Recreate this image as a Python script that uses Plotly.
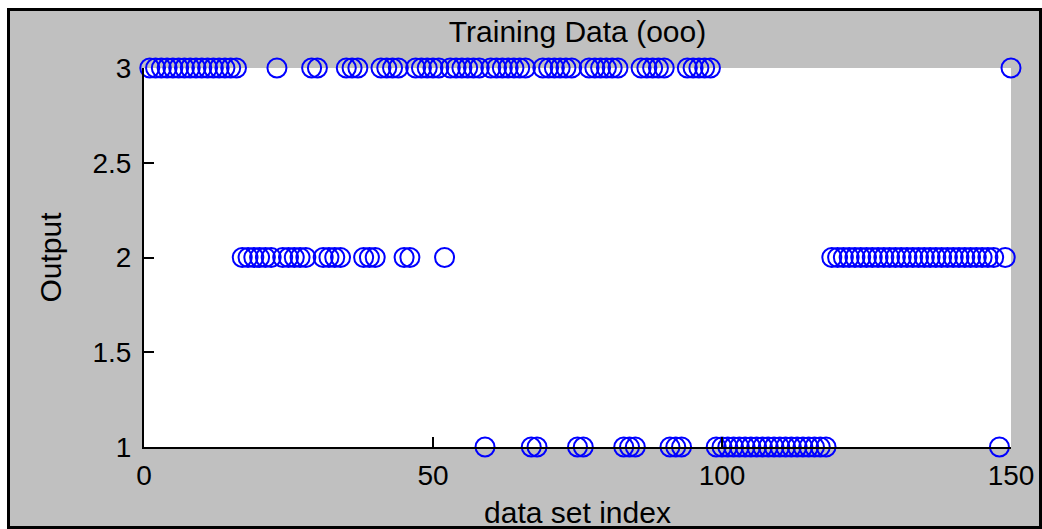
import plotly.graph_objects as go

# class label (Output) per data set index 1..150
idx_out3 = list(range(1, 17)) + [23, 29, 30, 35, 36, 37, 41, 42, 43, 44] + \
    list(range(47, 52)) + list(range(53, 59)) + list(range(60, 67)) + \
    list(range(69, 75)) + list(range(77, 83)) + list(range(86, 91)) + \
    list(range(94, 99)) + [150]
idx_out2 = list(range(17, 23)) + list(range(24, 29)) + list(range(31, 35)) + \
    [38, 39, 40, 45, 46, 52] + list(range(119, 148)) + [149]
idx_out1 = [59, 67, 68, 75, 76, 83, 84, 85, 91, 92, 93] + list(range(99, 119)) + [148]

output = {}
for i in idx_out3:
    output[i] = 3
for i in idx_out2:
    output[i] = 2
for i in idx_out1:
    output[i] = 1
x_vals = sorted(output.keys())
y_vals = [output[i] for i in x_vals]

x_ticks = [0, 50, 100, 150]
y_ticks = [1, 1.5, 2, 2.5, 3]
y_tick_text = ["1", "1.5", "2", "2.5", "3"]

W, H = 1042, 529
L, R, T, B = 144, 31, 68, 82
pw, ph = W - L - R, H - T - B

def px(xp):
    return (xp - L) / pw

def py(yp):
    return (H - B - yp) / ph

fig = go.Figure()
fig.add_trace(go.Scatter(
    x=x_vals, y=y_vals, mode="markers",
    marker=dict(symbol="circle-open", size=19, color="#0000FF",
                line=dict(width=2, color="#0000FF")),
    cliponaxis=False, showlegend=False,
))

font = "Liberation Sans, Arial, sans-serif"
fig.update_layout(
    width=W, height=H,
    margin=dict(l=L, r=R, t=T, b=B, autoexpand=False),
    paper_bgcolor="white",
    plot_bgcolor="white",
    title=dict(text="Training Data (ooo)", x=0.5, xref="paper", xanchor="center",
               y=1 - 31 / H, yref="container", yanchor="middle", automargin=False,
               font=dict(family=font, size=30, color="black")),
    shapes=[
        dict(type="rect", xref="paper", yref="paper", layer="below",
             x0=px(8.5), x1=px(1040.5), y0=py(527.5), y1=py(9.5),
             fillcolor="#C0C0C0", line=dict(color="black", width=3)),
        dict(type="rect", xref="paper", yref="paper", layer="below",
             x0=0, x1=1, y0=0, y1=1,
             fillcolor="white", line=dict(width=0)),
    ],
)
fig.update_xaxes(
    range=[0, 150], tickvals=x_ticks, ticktext=[str(t) for t in x_ticks],
    automargin=False,
    showgrid=False, zeroline=False, showline=True, linecolor="black", linewidth=2,
    ticks="inside", ticklen=10, tickwidth=2, tickcolor="black",
    tickfont=dict(family=font, size=28, color="black"), ticklabelstandoff=2,
    title=dict(text="data set index", standoff=14,
               font=dict(family=font, size=30, color="black")),
)
fig.update_yaxes(
    range=[1, 3], tickvals=y_ticks, ticktext=y_tick_text,
    automargin=False,
    showgrid=False, zeroline=False, showline=True, linecolor="black", linewidth=2,
    ticks="inside", ticklen=10, tickwidth=2, tickcolor="black",
    tickfont=dict(family=font, size=28, color="black"), ticklabelstandoff=5,
    title=dict(text="Output", standoff=22,
               font=dict(family=font, size=30, color="black")),
)

fig.write_html("out.html", config={"displayModeBar": False},
               post_script="document.body.style.margin='0';document.body.style.overflow='hidden';")
